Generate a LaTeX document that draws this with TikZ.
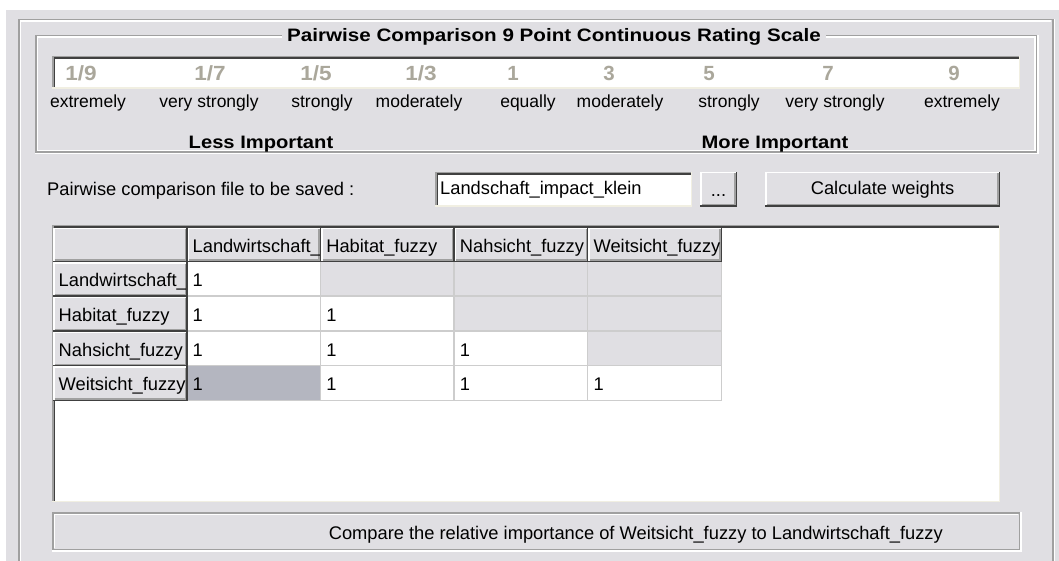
\documentclass[tikz,border=0pt]{standalone}
\usepackage{fontspec}
\setmainfont{Liberation Sans}
\usepackage{graphicx}
\definecolor{bg}{RGB}{224,223,227}
\definecolor{shadow}{RGB}{160,160,160}
\definecolor{dkshadow}{RGB}{64,64,64}
\definecolor{lightc}{RGB}{241,239,226}
\definecolor{numgray}{RGB}{170,167,155}
\definecolor{selcell}{RGB}{180,182,192}
\definecolor{gridc}{RGB}{205,205,205}
\newcommand{\fs}[1]{\fontsize{#1}{#1}\selectfont}
\newcommand{\rbtn}[4]{%
 \fill[bg] (#1,#2) rectangle (#3,#4);
 \draw[white,line width=1.5] (#1+0.75,#4-1.5) -- (#1+0.75,#2+0.75) -- (#3-1.5,#2+0.75);
 \draw[dkshadow,line width=1.5] (#1,#4-0.75) -- (#3-0.75,#4-0.75) -- (#3-0.75,#2);
 \draw[shadow,line width=1.2] (#1+1.5,#4-2.1) -- (#3-2.1,#4-2.1) -- (#3-2.1,#2+1.5);
}
\newcommand{\skbox}[5]{%
 \fill[#1] (#2,#3) rectangle (#4,#5);
 \draw[shadow,line width=1.5] (#2+0.75,#5) -- (#2+0.75,#3+0.75) -- (#4,#3+0.75);
 \draw[dkshadow,line width=1.5] (#2+2.25,#5-1.5) -- (#2+2.25,#3+2.25) -- (#4-1.5,#3+2.25);
 \draw[lightc,line width=1.5] (#2,#5-0.75) -- (#4-0.75,#5-0.75) -- (#4-0.75,#3);
}
\tikzset{
 txt/.style={inner sep=0pt, font=\fs{18.3}, text=black},
 lbl/.style={inner sep=0pt, font=\fs{17.5}, text=black},
 num/.style={inner sep=0pt, font=\fs{20.5}\bfseries, text=numgray},
 hd/.style={inner sep=0pt, font=\fs{18}\bfseries, text=black},
 etch/.style={line width=1.5},
}
\begin{document}
\begin{tikzpicture}[x=1pt,y=-1pt]
\useasboundingbox (0,0) rectangle (1059,561);
\fill[white] (0,0) rectangle (1059,561);
\fill[bg] (6,10) rectangle (1059,561);
% outer etched frame
\draw[etch,shadow] (18.75,561) -- (18.75,19.75) -- (1052.75,19.75) -- (1052.75,561);
\draw[etch,white] (20.25,561) -- (20.25,21.25) -- (1051.25,21.25);
\draw[etch,white] (1054.25,19) -- (1054.25,561);
% group box
\draw[etch,shadow] (35.75,35.75) rectangle (1036.25,152.25);
\draw[etch,white] (37.25,37.25) -- (37.25,150.75) -- (1034.75,150.75) -- (1034.75,37.25) -- cycle;
\draw[etch,white] (35,153.75) -- (1037.75,153.75) -- (1037.75,35);
\node[hd, fill=bg, inner xsep=5pt, anchor=base west] (title) at (282,41.5)
  {\scalebox{1.145}[1]{Pairwise Comparison 9 Point Continuous Rating Scale}};
% scale bar
\skbox{white}{52}{56}{1020}{89}
\foreach \n/\x/\t in {n1/81/{1/9}, n2/210/{1/7}, n3/316/{1/5}, n4/421/{1/3}}
  \node[num, anchor=base] (\n) at (\x,80.5) {\scalebox{1.1}[1]{\t}};
\foreach \n/\x/\t in {n5/513/1, n6/609/3, n7/709/5, n8/828/7, n9/954/9}
  \node[num, anchor=base] (\n) at (\x,80.5) {\t};
\foreach \n/\x/\t in {l1/88/extremely, l2/209/very strongly, l3/322/strongly, l4/419/moderately,
  l5/528/equally, l6/620/moderately, l7/729/strongly, l8/835/very strongly, l9/962/extremely}
  \node[lbl, anchor=base] (\n) at (\x,107.5) {\t};
\node[hd, anchor=base] (less) at (261,148.5) {\scalebox{1.12}[1]{Less Important}};
\node[hd, anchor=base] (more) at (775,148.5) {\scalebox{1.12}[1]{More Important}};
% file row
\node[txt, anchor=base west] (filelbl) at (47,195.5) {Pairwise comparison file to be saved :};
\skbox{white}{435}{172}{692}{207}
\node[txt, anchor=base west] (fname) at (440,195) {Landschaft\_impact\_klein};
\rbtn{700}{172}{737}{207}
\node[txt, anchor=base] (dots) at (718.5,196.5) {...};
\rbtn{765}{172}{1000}{207}
\node[txt, anchor=base] (calc) at (882.5,195) {Calculate weights};
% table
\skbox{white}{52}{225}{1000}{502}
\rbtn{53}{228}{187.5}{262}
\foreach \j/\t in {1/Landwirtschaft\_, 2/Habitat\_fuzzy, 3/Nahsicht\_fuzzy, 4/Weitsicht\_fuzzy}{
  \pgfmathsetmacro{\xa}{187.5+(\j-1)*133.625}
  \pgfmathsetmacro{\xb}{\xa+133.625}
  \rbtn{\xa}{228}{\xb}{262}
  \begin{scope}
    \clip (\xa,228) rectangle (\xb-2,262);
    \node[txt, anchor=base west] (ch\j) at (\xa+5,252.5) {\t};
  \end{scope}
}
\foreach \i/\t in {1/Landwirtschaft\_, 2/Habitat\_fuzzy, 3/Nahsicht\_fuzzy, 4/Weitsicht\_fuzzy}{
  \pgfmathsetmacro{\ya}{262+(\i-1)*34.75}
  \pgfmathsetmacro{\yb}{\ya+34.75}
  \rbtn{53}{\ya}{187.5}{\yb}
  \begin{scope}
    \clip (53,\ya) rectangle (185.5,\yb);
    \node[txt, anchor=base west] (rh\i) at (58.5,\ya+24.5) {\t};
  \end{scope}
}
\foreach \i in {1,2,3,4}{
  \foreach \j in {1,2,3,4}{
    \pgfmathsetmacro{\xa}{187.5+(\j-1)*133.625}
    \pgfmathsetmacro{\xb}{\xa+133.625}
    \pgfmathsetmacro{\ya}{262+(\i-1)*34.75}
    \pgfmathsetmacro{\yb}{\ya+34.75}
    \ifnum\j>\i\relax \def\cf{bg}\else\def\cf{white}\fi
    \ifnum\i=4\relax \ifnum\j=1\relax \def\cf{selcell}\fi\fi
    \fill[\cf] (\xa,\ya) rectangle (\xb,\yb);
    \draw[gridc,line width=1.5] (\xa,\yb-0.75) -- (\xb-0.75,\yb-0.75) -- (\xb-0.75,\ya);
    \ifnum\j>\i\relax\else
      \node[txt, anchor=base west] (c\i\j) at (\xa+5,\ya+24.5) {1};
    \fi
  }
}
% status bar
\fill[bg] (52,512) rectangle (1020,550);
\draw[etch,shadow] (52.75,512.75) rectangle (1019.25,549.25);
\draw[etch,white] (52,550.75) -- (1020.75,550.75) -- (1020.75,512);
\draw[etch,white] (54.25,548) -- (54.25,514.25) -- (1018,514.25);
\node[txt, anchor=base east] (status) at (943,539)
  {Compare the relative importance of Weitsicht\_fuzzy to Landwirtschaft\_fuzzy};
\end{tikzpicture}
\end{document}
